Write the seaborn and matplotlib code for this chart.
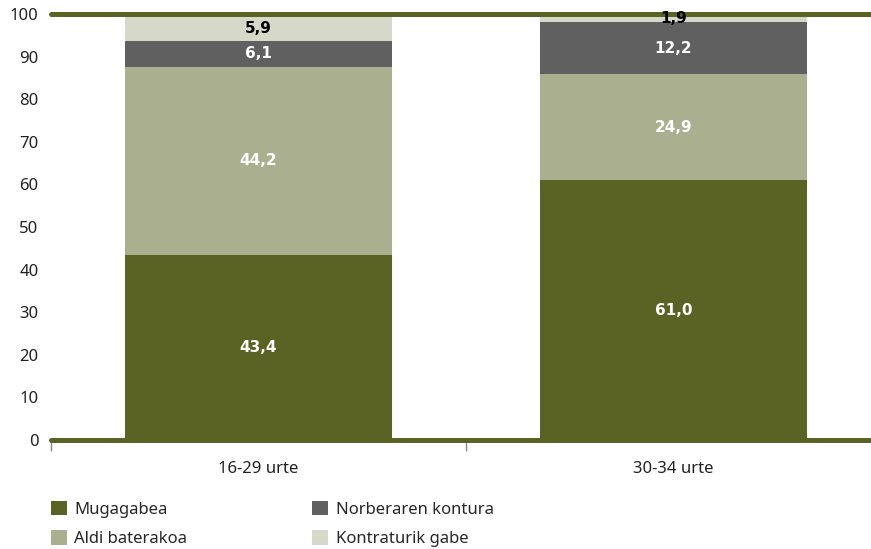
import matplotlib
matplotlib.use("Agg")
import matplotlib.pyplot as plt
import seaborn as sns
import pandas as pd
import numpy as np
from matplotlib.patches import Patch

categories = ["16-29 urte", "30-34 urte"]
series = ["Mugagabea", "Aldi baterakoa", "Norberaren kontura", "Kontraturik gabe"]
mugagabea = [43.4, 61.0]
aldi_baterakoa = [44.2, 24.9]
norberaren_kontura = [6.1, 12.2]
kontraturik_gabe = [5.9, 1.9]
colors = ["#5a6324", "#aab08f", "#606060", "#d6d9c9"]
label_colors = ["white", "white", "white", "black"]
yticks = [0, 10, 20, 30, 40, 50, 60, 70, 80, 90, 100]

values = [mugagabea, aldi_baterakoa, norberaren_kontura, kontraturik_gabe]

sns.set_theme(style="white")
plt.rcParams['font.family'] = ['Noto Sans', 'DejaVu Sans']

fig = plt.figure(figsize=(8.71, 5.49), dpi=100)
ax = fig.add_axes([51/871, 109/549, 830/871, 426/549])

cum = np.cumsum(np.array(values), axis=0)
# draw cumulative totals from the top layer down so that each layer shows
for i in range(len(series) - 1, -1, -1):
    df = pd.DataFrame({"cat": categories, "val": cum[i]})
    sns.barplot(data=df, x="cat", y="val", color=colors[i], width=0.645,
                saturation=1, ax=ax, zorder=2, linewidth=0)

# value labels
for i in range(len(series)):
    for j in range(len(categories)):
        bottom = cum[i][j] - values[i][j]
        yc = bottom + values[i][j] / 2
        ax.text(j, yc, f"{values[i][j]:.1f}".replace(".", ","),
                ha="center", va="center", color=label_colors[i],
                fontsize=11, fontweight="bold", family="DejaVu Sans", zorder=5)

ax.axhline(0, color=colors[0], lw=3.6, zorder=4, clip_on=False)
ax.axhline(100, color=colors[0], lw=3.6, zorder=4, clip_on=False)

ax.set_xlim(-0.5, 1.5)
ax.set_ylim(0, 100)
ax.set_yticks(yticks)
ax.set_yticklabels([str(t) for t in yticks])
ax.tick_params(axis="y", left=False, length=0, pad=9, labelsize=12, labelcolor="#222222")
ax.set_xticks([0, 1])
ax.set_xticklabels(categories)
ax.tick_params(axis="x", which="major", bottom=False, length=0, pad=15, labelsize=12, labelcolor="#222222")
ax.set_xticks([-0.5, 0.5], minor=True)
ax.tick_params(axis="x", which="minor", bottom=True, length=8, width=1, color="#888888", direction="out")
ax.set_xlabel("")
ax.set_ylabel("")
for s in ax.spines.values():
    s.set_visible(False)

handles = [Patch(facecolor=colors[k], edgecolor="none", label=series[k]) for k in range(4)]
fig.legend(handles=handles, ncol=2, loc="upper left",
           bbox_to_anchor=(51/871, 1 - 501/549), frameon=False,
           fontsize=12, handlelength=0.95, handleheight=0.95, handletextpad=0.45,
           labelspacing=0.75, columnspacing=7.5, borderaxespad=0, borderpad=0)

fig.savefig("out.png", dpi=100)
